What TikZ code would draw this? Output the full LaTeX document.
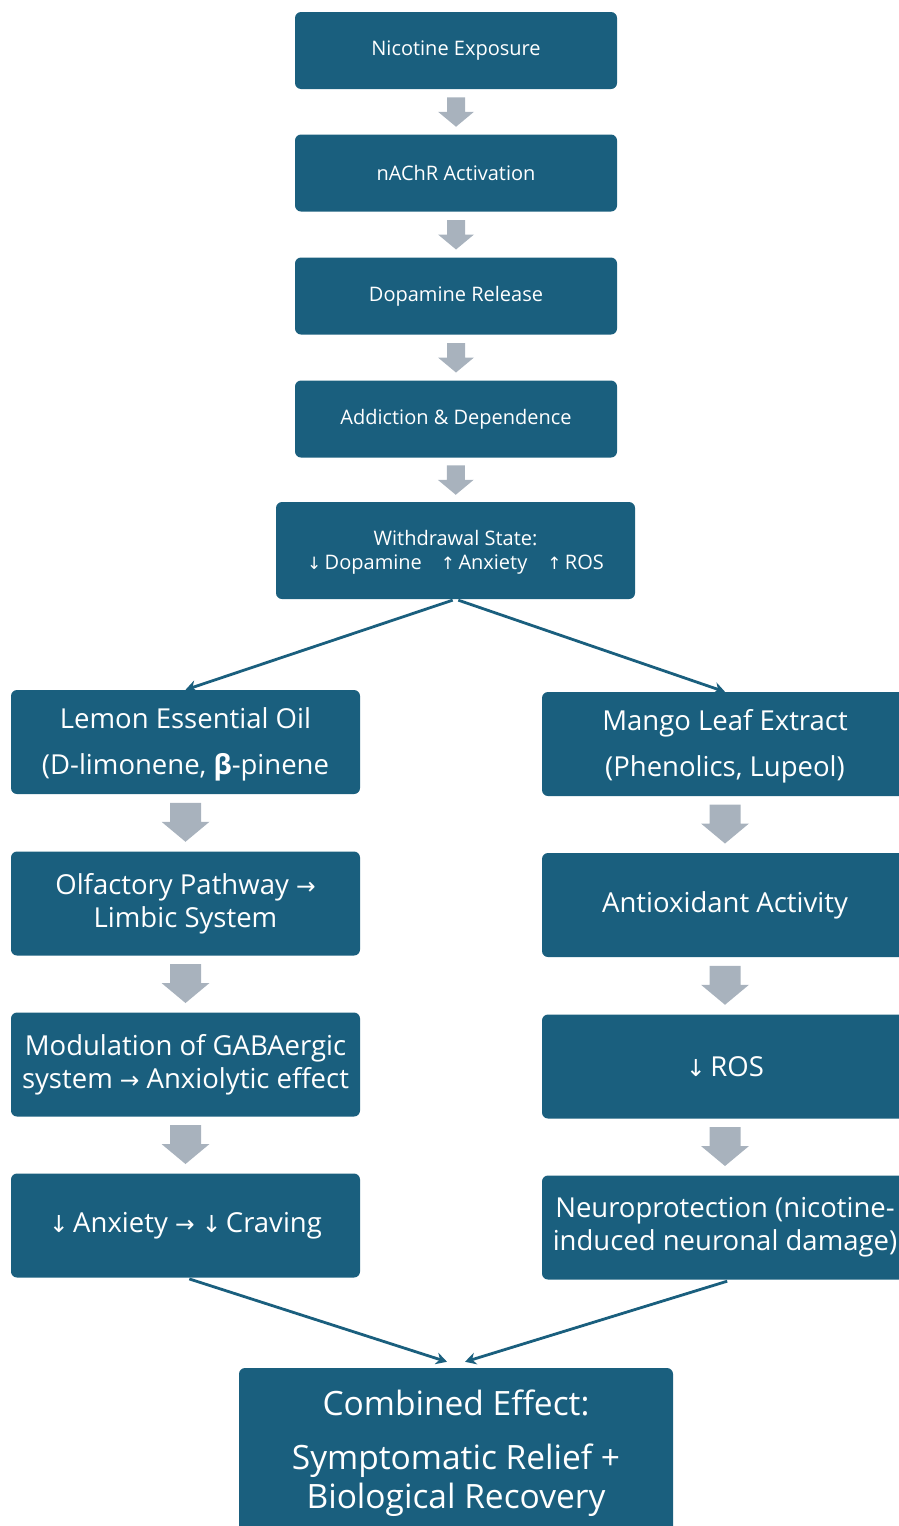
\documentclass[tikz,border=0pt]{standalone}
\usepackage{fontspec}
\setmainfont{Open Sans}
\newfontfamily\arrowfont{DejaVu Sans}
\usetikzlibrary{calc,arrows.meta}
\definecolor{boxblue}{RGB}{26,95,126}
\definecolor{arrgray}{RGB}{168,178,189}
\newcommand{\DnArr}{\scalebox{0.85}{\arrowfont ↓}}
\newcommand{\UpArr}{\scalebox{0.85}{\arrowfont ↑}}
\newcommand{\RtArr}{\scalebox{0.85}{\arrowfont →}}
\newcommand{\SmallBlock}[2]{\fill[arrgray] ($(#1.south)!0.5!(#2.north)$) ++(-9,-14.5) -- ++(18,0) -- ++(0,14.5) -- ++(9,0) -- ++(-18,15) -- ++(-18,-15) -- ++(9,0) -- cycle;}
\newcommand{\BigBlock}[2]{\fill[arrgray] ($(#1.south)!0.5!(#2.north)$) ++(-15.5,-20) -- ++(31,0) -- ++(0,19) -- ++(8.5,0) -- ++(-24,20) -- ++(-24,-20) -- ++(8.5,0) -- cycle;}
\begin{document}
\begin{tikzpicture}[x=1pt,y=-1pt,
  box/.style={fill=boxblue, rounded corners=6pt, text=white, align=center, inner sep=0pt},
  topbox/.style={box, minimum width=322pt, minimum height=77pt, font=\fontsize{20}{24}\selectfont},
  colbox/.style={box, minimum height=104pt, font=\fontsize{27.5}{33}\selectfont},
  leftbox/.style={colbox, minimum width=349pt},
  rightbox/.style={colbox, minimum width=366pt},
  link/.style={draw=boxblue, line width=2.8pt, -{Stealth[length=11pt,width=12pt]}}]
\useasboundingbox (0,0) rectangle (899,1526);
\clip (0,0) rectangle (899,1526);
% main chain
\node[topbox] (n1) at (456,50.5) {Nicotine Exposure};
\node[topbox] (n2) at (456,173) {nAChR Activation};
\node[topbox] (n3) at (456,296) {Dopamine Release};
\node[topbox] (n4) at (456,419) {Addiction \& Dependence};
\node[topbox, minimum width=359pt, minimum height=97pt] (w) at (455.5,550.5)
  {\rule{0pt}{19pt}Withdrawal State:\\\DnArr\,Dopamine\hspace{19pt}\UpArr\,Anxiety\hspace{20pt}\UpArr\,ROS};
\SmallBlock{n1}{n2}
\SmallBlock{n2}{n3}
\SmallBlock{n3}{n4}
\SmallBlock{n4}{w}
% left column
\node[leftbox] (l1) at (185.5,742) {\rule{0pt}{26pt}Lemon Essential Oil\\[13pt](D-limonene, \textbf{β}-pinene};
\node[leftbox] (l2) at (185.5,903.5) {Olfactory Pathway \RtArr\\Limbic System};
\node[leftbox] (l3) at (185.5,1064.5) {Modulation of GABAergic\\system \RtArr\ Anxiolytic effect};
\node[leftbox] (l4) at (185.5,1225.5) {\DnArr\,Anxiety \RtArr\ \DnArr\,Craving};
\BigBlock{l1}{l2}
\BigBlock{l2}{l3}
\BigBlock{l3}{l4}
% right column
\node[rightbox] (r1) at (725,744) {\rule{0pt}{26pt}Mango Leaf Extract\\[13pt](Phenolics, Lupeol)};
\node[rightbox] (r2) at (725,905) {Antioxidant Activity};
\node[rightbox] (r3) at (725,1066.5) {\DnArr\,ROS};
\node[rightbox] (r4) at (725,1227.5) {Neuroprotection (nicotine-\\induced neuronal damage)};
\BigBlock{r1}{r2}
\BigBlock{r2}{r3}
\BigBlock{r3}{r4}
% bottom
\node[box, minimum width=434pt, minimum height=170pt, font=\fontsize{33.5}{39}\selectfont] (b) at (456,1453)
  {Combined Effect:\\[15pt]Symptomatic Relief +\\Biological Recovery};
% connectors
\draw[link, shorten <=3pt] (w.south) -- (l1.north);
\draw[link, shorten <=3pt] (w.south) -- (r1.north);
\coordinate (bl) at ($(b.north)+(-9,-6)$);
\coordinate (br) at ($(b.north)+(9,-6)$);
\draw[link, shorten <=4pt] (l4.south) -- (bl);
\draw[link, shorten <=5pt] ($(r4.south)+(7,0)$) -- (br);
\end{tikzpicture}
\end{document}
